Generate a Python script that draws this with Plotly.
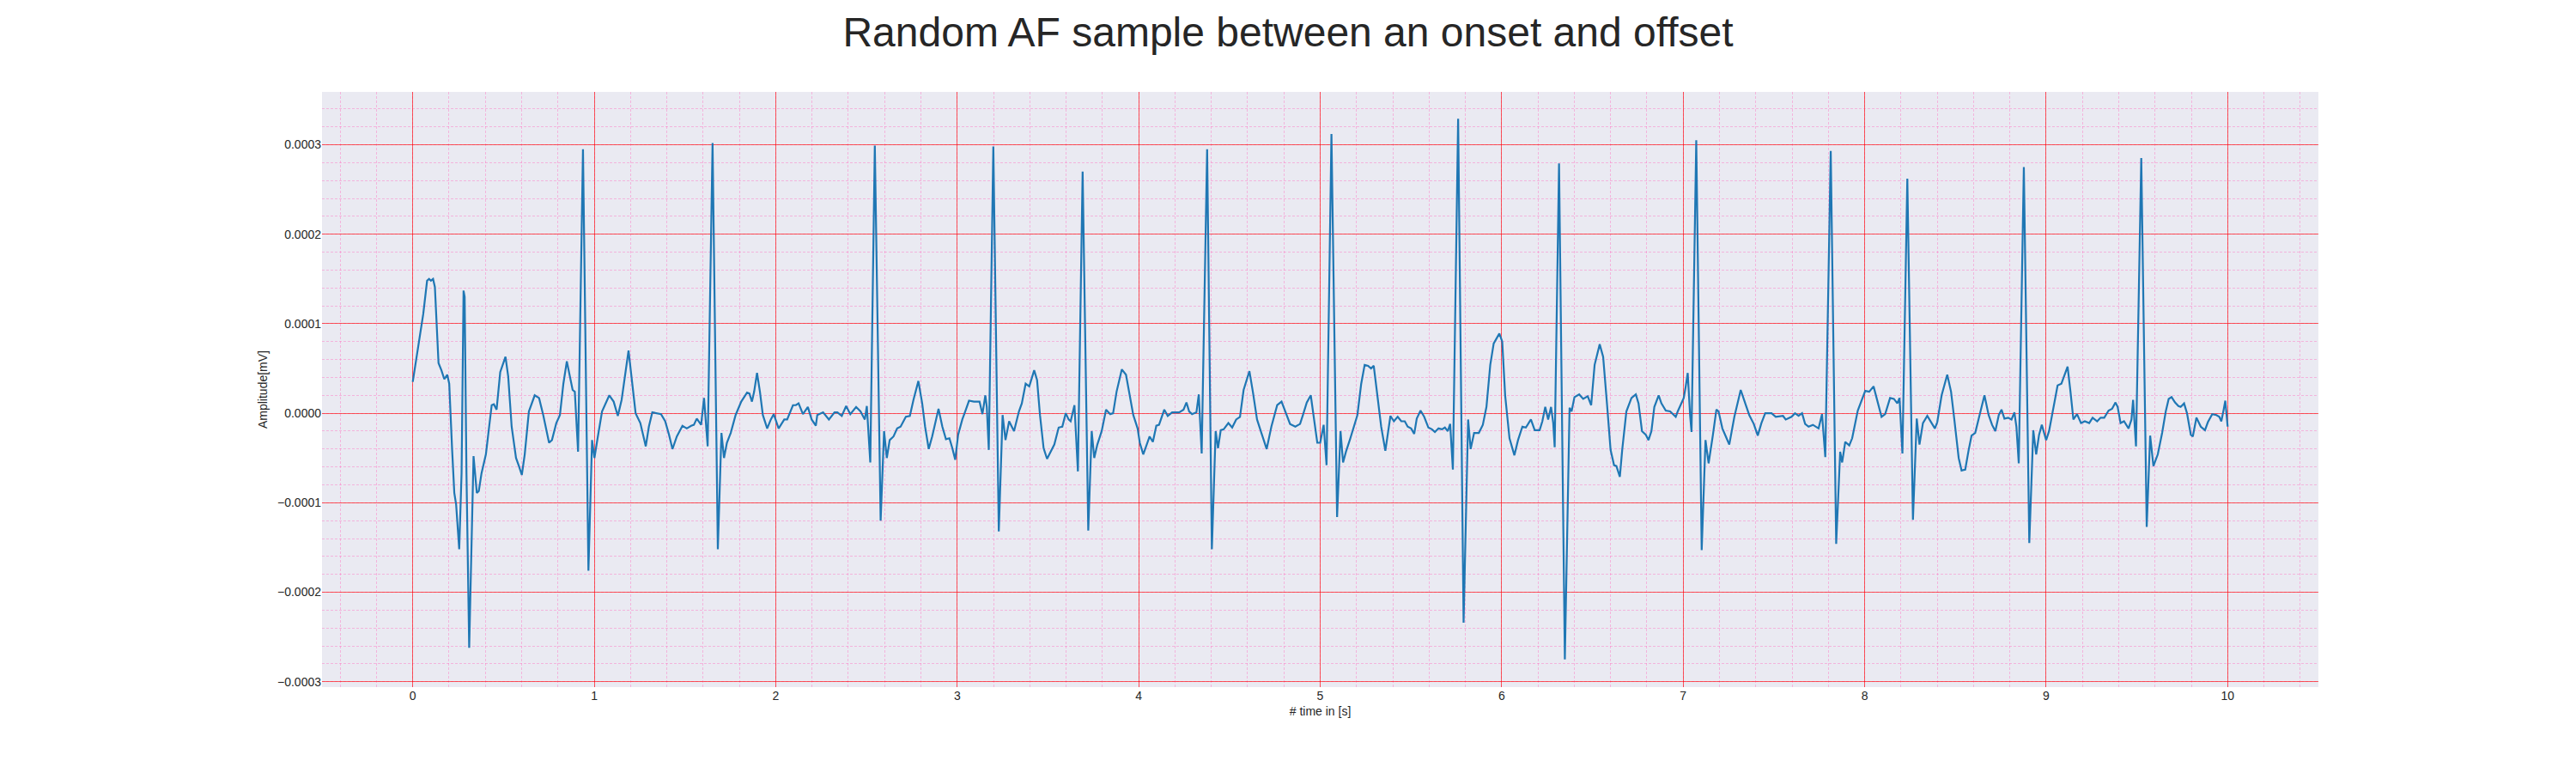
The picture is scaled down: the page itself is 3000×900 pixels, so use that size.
import plotly.graph_objects as go

# ---------------- data (time in seconds, amplitude in units of 1e-4 mV) ----------------
time_a = [
    0.000, 0.016, 0.032, 0.058, 0.079, 0.090, 0.100, 0.112, 0.122, 0.142,
    0.158, 0.174, 0.190, 0.201, 0.217, 0.229, 0.239, 0.256, 0.269, 0.280,
    0.286, 0.296, 0.311, 0.324, 0.335, 0.353, 0.364, 0.379, 0.403, 0.435,
    0.447, 0.462, 0.482, 0.511, 0.526, 0.545, 0.569, 0.585, 0.601, 0.617,
    0.640, 0.672, 0.696, 0.719, 0.751, 0.767, 0.791, 0.811, 0.830, 0.849,
    0.865, 0.881, 0.893, 0.901, 0.911, 0.938, 0.968, 0.988, 1.001, 1.020,
    1.043, 1.083, 1.107, 1.130, 1.151, 1.189, 1.209, 1.228, 1.254, 1.284,
    1.301, 1.320, 1.368, 1.391, 1.412, 1.431, 1.455, 1.470, 1.486, 1.510,
    1.534, 1.549, 1.565, 1.589, 1.605, 1.625, 1.652, 1.681, 1.701, 1.715,
    1.731, 1.752, 1.779, 1.810, 1.842, 1.855, 1.869, 1.881, 1.897, 1.913,
    1.929, 1.953, 1.973, 1.989, 2.016, 2.047, 2.063, 2.095, 2.111, 2.126,
    2.150, 2.177, 2.198, 2.221,
]
amp_a = [
    0.35, 0.56, 0.80, 1.11, 1.48, 1.50, 1.48, 1.50, 1.41, 0.56,
    0.48, 0.38, 0.43, 0.33, -0.41, -0.89, -1.02, -1.52, -0.67, 1.37,
    1.30, -0.67, -2.62, -1.54, -0.48, -0.89, -0.87, -0.67, -0.46, 0.09,
    0.10, 0.04, 0.46, 0.63, 0.41, -0.15, -0.50, -0.59, -0.69, -0.46,
    0.02, 0.20, 0.17, -0.02, -0.33, -0.30, -0.11, -0.02, 0.33, 0.58,
    0.41, 0.26, 0.24, -0.11, -0.43, 2.95, -1.76, -0.30, -0.50, -0.26,
    0.02, 0.20, 0.13, -0.03, 0.15, 0.70, 0.37, 0.00, -0.11, -0.37,
    -0.15, 0.01, -0.01, -0.09, -0.24, -0.40, -0.26, -0.20, -0.14, -0.17,
    -0.14, -0.13, -0.06, -0.13, 0.17, -0.37, 3.02, -1.52, -0.22, -0.50,
    -0.33, -0.22, -0.02, 0.13, 0.23, 0.22, 0.13, 0.24, 0.45, 0.24,
    -0.02, -0.17, -0.07, -0.01, -0.17, -0.07, -0.07, 0.09, 0.09, 0.11,
    -0.01, 0.07, -0.07, -0.14,
]

time_b = [
    2.229, 2.261, 2.293, 2.324, 2.340, 2.364, 2.388, 2.411, 2.443, 2.467,
    2.491, 2.502, 2.521, 2.546, 2.578, 2.597, 2.612, 2.628, 2.649, 2.669,
    2.688, 2.717, 2.739, 2.759, 2.786, 2.807, 2.823, 2.843, 2.862, 2.897,
    2.918, 2.938, 2.957, 2.973, 2.989, 3.005, 3.028, 3.044, 3.065, 3.092,
    3.123, 3.139, 3.155, 3.163, 3.174, 3.199, 3.229, 3.250, 3.266, 3.286,
    3.313, 3.340, 3.356, 3.377, 3.397, 3.424, 3.440, 3.456, 3.476, 3.495,
    3.514, 3.535, 3.559, 3.579, 3.598, 3.614, 3.625, 3.646, 3.665, 3.691,
    3.722, 3.741, 3.755, 3.772, 3.796, 3.820, 3.843, 3.859, 3.878, 3.907,
    3.930, 3.946, 3.970, 3.994, 4.006, 4.025, 4.041, 4.060, 4.078, 4.097,
    4.112, 4.141, 4.160, 4.184, 4.223, 4.247, 4.263, 4.278, 4.294, 4.318,
    4.331, 4.347, 4.377, 4.403, 4.424, 4.437,
]
amp_b = [
    -0.02, 0.01, -0.07, 0.01, 0.01, -0.03, 0.08, -0.01, 0.07, 0.02,
    -0.07, 0.08, -0.55, 2.99, -1.20, -0.20, -0.50, -0.30, -0.26, -0.17,
    -0.15, -0.04, -0.03, 0.15, 0.36, 0.11, -0.15, -0.40, -0.26, 0.05,
    -0.15, -0.29, -0.28, -0.39, -0.52, -0.24, -0.07, 0.02, 0.14, 0.13,
    0.13, -0.01, 0.20, 0.07, -0.41, 2.98, -1.32, -0.02, -0.30, -0.09,
    -0.20, 0.02, 0.11, 0.33, 0.30, 0.48, 0.37, -0.02, -0.39, -0.51,
    -0.43, -0.35, -0.16, -0.15, 0.00, -0.07, -0.09, 0.09, -0.65, 2.70,
    -1.31, -0.20, -0.50, -0.35, -0.20, 0.04, -0.01, 0.00, 0.24, 0.49,
    0.43, 0.24, -0.02, -0.17, -0.33, -0.46, -0.37, -0.26, -0.32, -0.14,
    -0.13, 0.04, -0.03, 0.01, 0.01, 0.04, 0.12, 0.02, -0.01, 0.01,
    0.21, -0.45, 2.95, -1.52, -0.20, -0.39,
]

time_c = [
    4.452, 4.468, 4.494, 4.515, 4.537, 4.558, 4.578, 4.610, 4.629, 4.652,
    4.676, 4.705, 4.731, 4.763, 4.787, 4.810, 4.834, 4.863, 4.889, 4.905,
    4.926, 4.948, 4.961, 4.984, 5.000, 5.019, 5.035, 5.062, 5.093, 5.112,
    5.126, 5.142, 5.166, 5.190, 5.205, 5.226, 5.245, 5.264, 5.280, 5.295,
    5.316, 5.336, 5.359, 5.371, 5.387, 5.406, 5.427, 5.447, 5.466, 5.482,
    5.501, 5.518, 5.532, 5.553, 5.573, 5.596, 5.616, 5.632, 5.652, 5.671,
    5.687, 5.703, 5.716, 5.731, 5.760, 5.790, 5.815, 5.829, 5.848, 5.874,
    5.896, 5.916, 5.937, 5.956, 5.987, 6.003, 6.019, 6.043, 6.070, 6.090,
    6.114, 6.133, 6.161, 6.182, 6.209, 6.224, 6.240, 6.256, 6.272, 6.284,
    6.292, 6.316, 6.348, 6.374, 6.385, 6.401, 6.427, 6.449, 6.474, 6.493,
    6.512, 6.540, 6.559, 6.580, 6.600, 6.619, 6.632, 6.651, 6.664,
]
amp_c = [
    -0.19, -0.18, -0.11, -0.16, -0.07, -0.04, 0.26, 0.47, 0.24, -0.07,
    -0.22, -0.40, -0.15, 0.09, 0.13, 0.00, -0.12, -0.15, -0.12, -0.02,
    0.12, 0.20, 0.02, -0.33, -0.33, -0.13, -0.58, 3.12, -1.16, -0.20,
    -0.55, -0.43, -0.28, -0.13, -0.02, 0.33, 0.54, 0.53, 0.50, 0.53,
    0.20, -0.15, -0.42, -0.24, -0.03, -0.09, -0.04, -0.09, -0.09, -0.15,
    -0.17, -0.23, -0.06, 0.03, -0.04, -0.16, -0.18, -0.21, -0.17, -0.18,
    -0.16, -0.20, -0.12, -0.63, 3.29, -2.34, -0.07, -0.40, -0.22, -0.22,
    -0.13, 0.07, 0.54, 0.78, 0.89, 0.80, 0.20, -0.28, -0.47, -0.30,
    -0.15, -0.16, -0.07, -0.19, -0.19, -0.09, 0.07, -0.07, 0.07, -0.11,
    -0.38, 2.79, -2.75, 0.06, 0.02, 0.18, 0.21, 0.16, 0.19, 0.09,
    0.54, 0.77, 0.63, 0.11, -0.41, -0.58, -0.59, -0.71, -0.41,
]

time_d = [
    6.687, 6.715, 6.739, 6.754, 6.773, 6.794, 6.809, 6.825, 6.841, 6.865,
    6.880, 6.904, 6.928, 6.959, 6.970, 6.986, 7.003, 7.014, 7.025, 7.038,
    7.046, 7.072, 7.102, 7.123, 7.140, 7.164, 7.183, 7.195, 7.216, 7.235,
    7.254, 7.282, 7.317, 7.342, 7.364, 7.389, 7.411, 7.431, 7.452, 7.487,
    7.510, 7.550, 7.565, 7.597, 7.616, 7.636, 7.655, 7.672, 7.691, 7.715,
    7.746, 7.765, 7.783, 7.813, 7.843, 7.865, 7.876, 7.893, 7.915, 7.931,
    7.962, 8.003, 8.025, 8.049, 8.072, 8.093, 8.113, 8.140, 8.161, 8.180,
    8.192, 8.208, 8.235, 8.266, 8.287, 8.302, 8.321, 8.345, 8.369, 8.387,
    8.400, 8.424, 8.455, 8.476, 8.494, 8.518, 8.534, 8.554, 8.573, 8.589,
    8.609, 8.633, 8.660, 8.683, 8.702, 8.720, 8.739, 8.754, 8.770, 8.791,
    8.809, 8.825, 8.836, 8.849,
]
amp_d = [
    0.02, 0.17, 0.21, 0.11, -0.20, -0.24, -0.30, -0.20, 0.07, 0.20,
    0.11, 0.03, 0.02, -0.04, 0.02, 0.10, 0.17, 0.30, 0.45, -0.02,
    -0.21, 3.05, -1.53, -0.30, -0.56, -0.24, 0.04, 0.02, -0.17, -0.26,
    -0.35, -0.04, 0.26, 0.11, -0.02, -0.12, -0.25, -0.11, 0.00, 0.00,
    -0.04, -0.03, -0.07, -0.04, 0.00, -0.03, 0.00, -0.12, -0.15, -0.13,
    -0.17, -0.01, -0.49, 2.93, -1.46, -0.43, -0.55, -0.32, -0.36, -0.28,
    0.03, 0.25, 0.24, 0.30, 0.11, -0.04, -0.01, 0.17, 0.16, 0.11,
    0.17, -0.45, 2.62, -1.19, -0.06, -0.35, -0.11, -0.03, -0.11, -0.17,
    -0.10, 0.20, 0.43, 0.24, -0.07, -0.50, -0.64, -0.63, -0.41, -0.25,
    -0.22, -0.01, 0.20, -0.02, -0.13, -0.20, -0.02, 0.04, -0.06, -0.05,
    -0.07, 0.01, -0.15, -0.56,
]

time_e = [
    8.877, 8.907, 8.929, 8.945, 8.961, 8.976, 9.000, 9.016, 9.035, 9.063,
    9.084, 9.103, 9.118, 9.134, 9.150, 9.170, 9.192, 9.213, 9.237, 9.256,
    9.281, 9.300, 9.320, 9.344, 9.363, 9.382, 9.394, 9.410, 9.429, 9.454,
    9.470, 9.479, 9.495, 9.524, 9.554, 9.573, 9.591, 9.615, 9.639, 9.659,
    9.675, 9.691, 9.710, 9.729, 9.741, 9.760, 9.776, 9.797, 9.808, 9.828,
    9.852, 9.875, 9.891, 9.915, 9.938, 9.954, 9.965, 9.978, 9.987, 10.000,
]
amp_e = [
    2.75, -1.45, -0.19, -0.46, -0.24, -0.13, -0.30, -0.20, 0.00, 0.31,
    0.33, 0.43, 0.52, 0.24, -0.07, -0.01, -0.11, -0.09, -0.11, -0.05,
    -0.09, -0.05, -0.05, 0.03, 0.05, 0.12, 0.07, -0.11, -0.09, -0.17,
    -0.07, 0.15, -0.37, 2.85, -1.27, -0.25, -0.59, -0.46, -0.22, 0.02,
    0.16, 0.18, 0.12, 0.08, 0.07, 0.11, 0.00, -0.24, -0.26, -0.05,
    -0.15, -0.19, -0.10, -0.01, -0.02, -0.04, -0.09, 0.04, 0.14, -0.15,
]

AMP_UNIT = 1e-4  # the amplitude lists above are in units of 1e-4 mV

x_tick_vals = [0, 1, 2, 3, 4, 5, 6, 7, 8, 9, 10]
x_tick_text = ["0", "1", "2", "3", "4", "5", "6", "7", "8", "9", "10"]
y_tick_vals = [-0.0003, -0.0002, -0.0001, 0.0, 0.0001, 0.0002, 0.0003]
y_tick_text = ["\u22120.0003", "\u22120.0002", "\u22120.0001", "0.0000",
               "0.0001", "0.0002", "0.0003"]

# ---------------- assemble ----------------
time_s = time_a + time_b + time_c + time_d + time_e
amplitude_mV = [v * AMP_UNIT for v in (amp_a + amp_b + amp_c + amp_d + amp_e)]

FONT = "Arial, 'Liberation Sans', Helvetica, sans-serif"
TXT = "#262626"
MAJOR = "rgba(255,0,0,0.62)"
MINOR = "rgba(255,105,190,0.42)"

fig = go.Figure()
fig.add_trace(go.Scatter(
    x=time_s, y=amplitude_mV, mode="lines",
    line=dict(color="#1f77b4", width=2.2),
    showlegend=False, hoverinfo="x+y",
))

fig.update_layout(
    width=3000, height=900,
    margin=dict(l=367, r=308, t=99, b=108),
    paper_bgcolor="white",
    plot_bgcolor="#EAEAF2",
    font=dict(family=FONT, size=14, color=TXT),
    title=dict(
        text="Random AF sample between an onset and offset",
        x=1492 / 3000, xref="container", xanchor="center",
        y=1 - 29 / 900, yref="container", yanchor="middle",
        font=dict(family=FONT, size=48, color=TXT),
    ),
    showlegend=False,
)

fig.update_xaxes(
    range=[-0.5, 10.5],
    tickmode="array", tickvals=x_tick_vals, ticktext=x_tick_text,
    showgrid=True, gridcolor=MAJOR, gridwidth=1,
    zeroline=False, showline=False, ticks="",
    tickfont=dict(size=14, color=TXT),
    title=dict(text="# time in [s]", font=dict(size=14, color=TXT), standoff=6),
    minor=dict(dtick=0.2, tick0=0, showgrid=True, gridcolor=MINOR,
               gridwidth=1, griddash="3px,2px"),
)
fig.update_yaxes(
    range=[-0.000306, 0.000359],
    tickmode="array", tickvals=y_tick_vals, ticktext=y_tick_text,
    showgrid=True, gridcolor=MAJOR, gridwidth=1,
    zeroline=False, showline=False, ticks="",
    tickfont=dict(size=14, color=TXT),
    title=dict(text="Amplitude[mV]", font=dict(size=14, color=TXT), standoff=8),
    minor=dict(dtick=0.00002, tick0=0, showgrid=True, gridcolor=MINOR,
               gridwidth=1, griddash="3px,2px"),
)

fig.write_html("out.html")
